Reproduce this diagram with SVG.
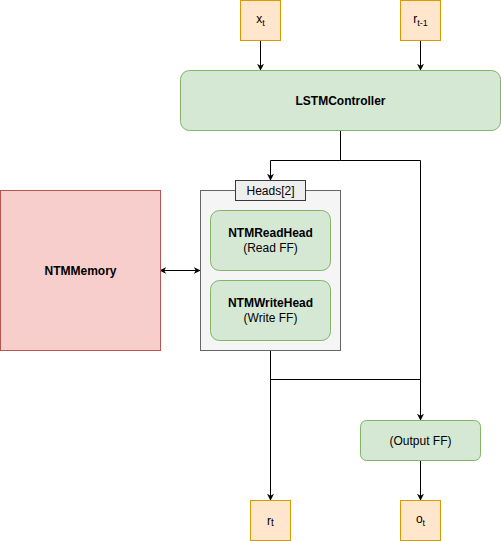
<svg xmlns="http://www.w3.org/2000/svg" width="501" height="541" viewBox="0 0 501 541">
<defs>
<style>
text{font-family:"Liberation Sans",Arial,sans-serif;font-size:12px;fill:#000;text-anchor:middle}
.b{font-weight:bold}
.io{fill:#ffe6cc;stroke:#d79b00}
.gr{fill:#d5e8d4;stroke:#82b366}
.mem{fill:#f8cecc;stroke:#b85450}
.cont{fill:#f5f5f5;stroke:#666666}
.lbl{fill:#eeeeee;stroke:#36393d}
.e{fill:none;stroke:#000;stroke-width:1}
.sub{font-size:9px}
</style>
<marker id="ah" viewBox="0 0 10 10" refX="9" refY="5" markerWidth="7" markerHeight="7" orient="auto-start-reverse" markerUnits="userSpaceOnUse">
<path d="M0,0 L10,5 L0,10 L3,5 Z" fill="#000"/>
</marker>
</defs>
<g id="connectors">
<path class="e" d="M260.5,40 V70" marker-end="url(#ah)"/>
<path class="e" d="M420.5,40 V70" marker-end="url(#ah)"/>
<path class="e" d="M340.5,130 V160.5 H270.5 V180" marker-end="url(#ah)"/>
<path class="e" d="M340.5,160.5 H420.5 V420" marker-end="url(#ah)"/>
<path class="e" d="M160,270.5 H200" marker-start="url(#ah)" marker-end="url(#ah)"/>
<path class="e" d="M270.5,350 V500" marker-end="url(#ah)"/>
<path class="e" d="M270.5,379.5 H420.5"/>
<path class="e" d="M420.5,460 V500" marker-end="url(#ah)"/>
</g>
<g id="xt">
<rect class="io" x="240.5" y="0.5" width="40" height="40"/>
<text x="260.5" y="23">x<tspan class="sub" dy="3">t</tspan></text>
</g>
<g id="rt1">
<rect class="io" x="400.5" y="0.5" width="40" height="40"/>
<text x="420.5" y="23">r<tspan class="sub" dy="3">t-1</tspan></text>
</g>
<g id="lstm">
<rect class="gr" x="180.5" y="70.5" width="320" height="60" rx="9"/>
<text class="b" x="340.5" y="104.5">LSTMController</text>
</g>
<g id="memory">
<rect class="mem" x="0.5" y="190.5" width="160" height="160"/>
<text class="b" x="80.5" y="274.5">NTMMemory</text>
</g>
<g id="heads">
<rect class="cont" x="200.5" y="190.5" width="140" height="160"/>
<rect class="lbl" x="235.5" y="180.5" width="70" height="20"/>
<text x="270.5" y="194.5">Heads[2]</text>
</g>
<g id="readhead">
<rect class="gr" x="210.5" y="210.5" width="120" height="60" rx="9"/>
<text class="b" x="270.5" y="237">NTMReadHead</text>
<text x="270.5" y="251.5">(Read FF)</text>
</g>
<g id="writehead">
<rect class="gr" x="210.5" y="280.5" width="120" height="60" rx="9"/>
<text class="b" x="270.5" y="307">NTMWriteHead</text>
<text x="270.5" y="321.5">(Write FF)</text>
</g>
<g id="outff">
<rect class="gr" x="360.5" y="420.5" width="120" height="40" rx="6"/>
<text x="420.5" y="444.5">(Output FF)</text>
</g>
<g id="rt">
<rect class="io" x="250.5" y="500.5" width="40" height="40"/>
<text x="270.5" y="524.5">r<tspan class="sub" dy="1" style="font-size:10px">t</tspan></text>
</g>
<g id="ot">
<rect class="io" x="400.5" y="500.5" width="40" height="40"/>
<text x="420.5" y="523">o<tspan class="sub" dy="3">t</tspan></text>
</g>
</svg>
